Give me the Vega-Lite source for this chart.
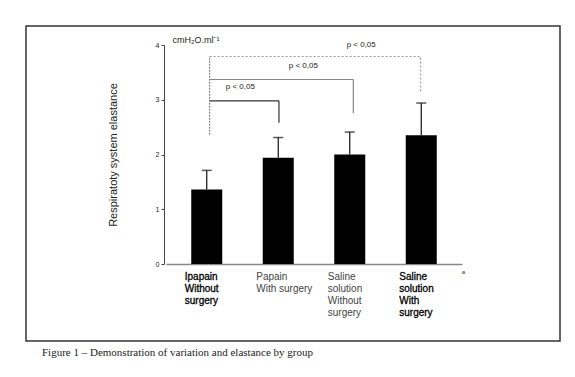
{
  "$schema": "https://vega.github.io/schema/vega-lite/v6.json",
  "width": 534,
  "height": 315,
  "autosize": {"type": "none"},
  "padding": {"left": 26, "top": 26, "right": 15, "bottom": 36},
  "config": {"view": {"stroke": "#333", "strokeWidth": 1.5}, "font": "Liberation Sans"},
  "title": {"text": "Figure 1 – Demonstration of variation and elastance by group", "orient": "bottom", "anchor": "start", "frame": "group", "font": "Liberation Serif", "fontSize": 11, "fontWeight": "normal", "color": "#222", "offset": 6, "dx": 16},
  "datasets": {
    "groups": [
      {"grp": 1, "label": "Ipapain|Without|surgery", "mean": 1.36, "upper": 1.71},
      {"grp": 2, "label": "Papain|With surgery", "mean": 1.94, "upper": 2.31},
      {"grp": 3, "label": "Saline|solution|Without|surgery", "mean": 2.0, "upper": 2.41},
      {"grp": 4, "label": "Saline|solution|With|surgery", "mean": 2.35, "upper": 2.94}
    ],
    "brackets": [
      {"xa": 1.04, "xb": 2.01, "top": 2.98, "bottom": 2.58, "kind": "near"},
      {"xa": 1.04, "xb": 3.05, "top": 3.37, "bottom": 2.76, "kind": "mid"},
      {"xa": 1.04, "xb": 3.99, "top": 3.79, "bottom": 3.15, "kind": "far"}
    ],
    "stem": [{"x": 1.04, "y": 2.36, "y2": 3.79}],
    "plabels": [
      {"x": 1.47, "y": 3.24, "text": "p < 0,05"},
      {"x": 2.35, "y": 3.62, "text": "p < 0,05"},
      {"x": 3.16, "y": 4.0, "text": "p < 0,05"}
    ],
    "notes": [{"x": 0.52, "y": 4.09, "text": "cmH₂O.ml⁻¹"}],
    "marks": [{"x": 4.59, "y": -0.15, "text": "a"}]
  },
  "layer": [
    {
      "data": {"name": "groups"},
      "mark": {"type": "bar", "width": 31, "color": "#000"},
      "encoding": {
        "x": {"field": "grp", "type": "quantitative", "scale": {"domain": [0.5, 4.5], "range": [140, 436], "nice": false, "zero": false},
          "axis": {"title": null, "labels": false, "ticks": false, "grid": false, "offset": -77, "domainColor": "#888", "domainWidth": 1.5}},
        "y": {"field": "mean", "type": "quantitative", "scale": {"domain": [0, 4], "range": [238, 19], "nice": false},
          "axis": {"title": "Respiratoty system elastance", "values": [0, 1, 2, 3, 4], "format": "d", "grid": false, "offset": -138, "tickSize": 3, "labelFontSize": 7, "labelPadding": 2, "domainColor": "#444", "tickColor": "#444", "labelColor": "#222", "titleFontSize": 11, "titleFontWeight": "normal", "titleColor": "#222", "titlePadding": 37}}
      }
    },
    {
      "data": {"name": "groups"},
      "mark": {"type": "rule", "color": "#111", "strokeWidth": 1.2},
      "encoding": {
        "x": {"field": "grp", "type": "quantitative"},
        "y": {"field": "mean", "type": "quantitative"},
        "y2": {"field": "upper"}
      }
    },
    {
      "data": {"name": "groups"},
      "mark": {"type": "tick", "orient": "horizontal", "size": 10, "thickness": 1.5, "color": "#111"},
      "encoding": {
        "x": {"field": "grp", "type": "quantitative"},
        "y": {"field": "upper", "type": "quantitative"}
      }
    },
    {
      "data": {"name": "brackets"},
      "mark": {"type": "rule", "strokeWidth": 1.2},
      "encoding": {
        "x": {"field": "xa", "type": "quantitative"},
        "x2": {"field": "xb"},
        "y": {"field": "top", "type": "quantitative"},
        "color": {"field": "kind", "type": "nominal", "scale": {"domain": ["near", "mid", "far"], "range": ["#333", "#888", "#999"]}, "legend": null},
        "strokeDash": {"field": "kind", "type": "nominal", "scale": {"domain": ["near", "mid", "far"], "range": [[1, 0], [1, 0], [2, 2]]}, "legend": null}
      }
    },
    {
      "data": {"name": "brackets"},
      "mark": {"type": "rule", "strokeWidth": 1.2},
      "encoding": {
        "x": {"field": "xb", "type": "quantitative"},
        "y": {"field": "bottom", "type": "quantitative"},
        "y2": {"field": "top"},
        "color": {"field": "kind", "type": "nominal", "legend": null},
        "strokeDash": {"field": "kind", "type": "nominal", "legend": null}
      }
    },
    {
      "data": {"name": "stem"},
      "mark": {"type": "rule", "strokeWidth": 1.2, "color": "#888", "strokeDash": [2, 1]},
      "encoding": {
        "x": {"field": "x", "type": "quantitative"},
        "y": {"field": "y", "type": "quantitative"},
        "y2": {"field": "y2"}
      }
    },
    {
      "data": {"name": "plabels"},
      "mark": {"type": "text", "fontSize": 8, "color": "#222", "baseline": "middle"},
      "encoding": {
        "x": {"field": "x", "type": "quantitative"},
        "y": {"field": "y", "type": "quantitative"},
        "text": {"field": "text"}
      }
    },
    {
      "data": {"name": "notes"},
      "mark": {"type": "text", "fontSize": 9, "color": "#222", "baseline": "middle", "align": "left"},
      "encoding": {
        "x": {"field": "x", "type": "quantitative"},
        "y": {"field": "y", "type": "quantitative"},
        "text": {"field": "text"}
      }
    },
    {
      "data": {"name": "marks"},
      "mark": {"type": "text", "fontSize": 6, "color": "#333", "baseline": "middle"},
      "encoding": {
        "x": {"field": "x", "type": "quantitative"},
        "y": {"field": "y", "type": "quantitative"},
        "text": {"field": "text"}
      }
    },
    {
      "data": {"name": "groups"},
      "transform": [{"filter": "datum.grp == 1 || datum.grp == 4"}],
      "mark": {"type": "text", "fontSize": 10, "color": "#000", "stroke": "#000", "strokeWidth": 0.3, "align": "left", "baseline": "top", "dx": -22, "dy": 8, "lineBreak": "|", "lineHeight": 12},
      "encoding": {
        "x": {"field": "grp", "type": "quantitative"},
        "y": {"datum": 0, "type": "quantitative"},
        "text": {"field": "label"}
      }
    },
    {
      "data": {"name": "groups"},
      "transform": [{"filter": "datum.grp == 2 || datum.grp == 3"}],
      "mark": {"type": "text", "fontSize": 10, "color": "#444", "align": "left", "baseline": "top", "dx": -22, "dy": 8, "lineBreak": "|", "lineHeight": 12},
      "encoding": {
        "x": {"field": "grp", "type": "quantitative"},
        "y": {"datum": 0, "type": "quantitative"},
        "text": {"field": "label"}
      }
    }
  ]
}
